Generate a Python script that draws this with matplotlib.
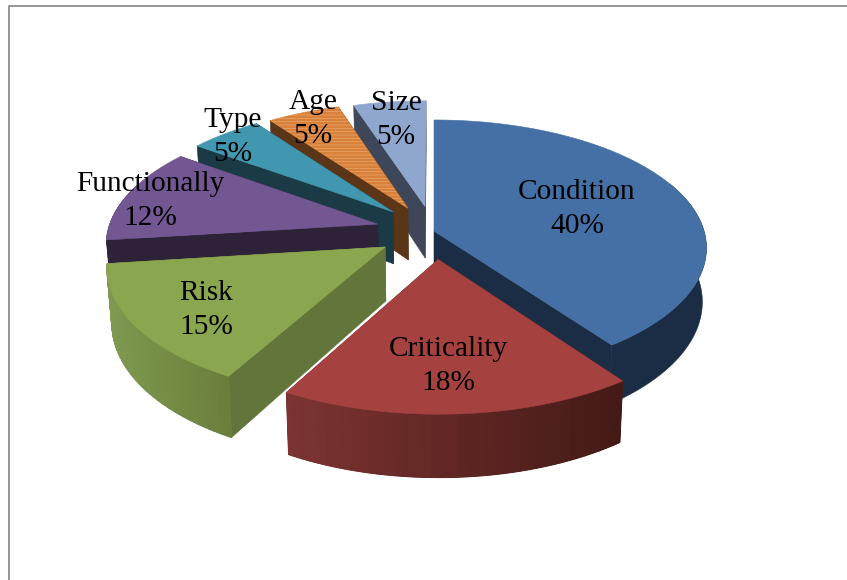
import numpy as np
import matplotlib.pyplot as plt
from matplotlib.colors import LinearSegmentedColormap
from matplotlib.patches import Polygon

# Values of the exploded 3D pie, clockwise from 12 o'clock
categories = ['Condition', 'Criticality', 'Risk', 'Functionally', 'Type', 'Age', 'Size']
values = [40, 18, 15, 12, 5, 5, 5]

top_colors = ['#4470A5', '#A5423F', '#8AA64E', '#725792', '#4097AF', '#D98139', '#8FA6CE']
side_colors = ['#1B2D45', '#62201D', '#62753A', '#2D2238', '#1A3A46', '#5A3518', '#3D4759']
arc_left_colors = ['#1B2D45', '#7D3431', '#7F9A50', '#2D2238', '#1A3A46', '#5A3518', '#3D4759']
arc_right_colors = ['#1B2D45', '#441A17', '#6A7F3C', '#2D2238', '#1A3A46', '#5A3518', '#3D4759']

# Slice offsets on the pie plane (fraction of the radius)
shift_u = [0.0, 0.015, -0.178, -0.21, -0.155, -0.099, -0.034]
shift_v = [0.0, 0.22, 0.125, -0.055, -0.155, -0.185, -0.20]

# Label centres in pixels
label_x = [577, 448, 206, 150, 233, 313, 396]
label_y = [209, 366, 310, 201, 137, 119, 120]

# Back to front
draw_order = [6, 5, 4, 3, 0, 2, 1]

# Camera settings
cx, cy = 434, 231
radius_x, radius_y = 270, 125.8
persp = 0.133
depth = 53
bottom_scale = 0.985


def project(u, v):
    s = 1 / (1 - persp * v)
    return cx + radius_x * u * s, cy + radius_y * v * s, s


def bottom(u, v):
    x, y, s = project(u, v)
    return cx + (x - cx) * bottom_scale, y + depth * s


def wall(ax, us, vs, color, lw=0.4):
    # side wall hanging below a run of points of the top face
    x1, y1, _ = project(np.asarray(us), np.asarray(vs))
    x2, y2 = bottom(np.asarray(us), np.asarray(vs))
    pts = np.r_[np.c_[x1, y1], np.c_[x2, y2][::-1]]
    ax.add_patch(Polygon(pts, closed=True, facecolor=color, edgecolor=color, lw=lw))


fig = plt.figure(figsize=(8.47, 5.8), dpi=100)
ax = fig.add_axes([0, 0, 1, 1])
ax.set_xlim(0, 847)
ax.set_ylim(580, 0)
ax.axis('off')

# Grey frame, only top and left are visible
ax.plot([847, 9, 9], [5.5, 5.5, 580], color='#8C8C8C', lw=1.3)

edges = np.cumsum([0] + values) / sum(values) * 2 * np.pi

for i in draw_order:
    a1, a2 = edges[i], edges[i + 1]
    theta = np.linspace(a1, a2, 160)
    u = shift_u[i] + np.sin(theta)
    v = shift_v[i] - np.cos(theta)

    # radial walls
    wall(ax, [shift_u[i], u[0]], [shift_v[i], v[0]], side_colors[i])
    wall(ax, [shift_u[i], u[-1]], [shift_v[i], v[-1]], side_colors[i])

    # outer wall: solid base, then shaded left to right where the colour changes
    front = v > -0.4
    if front.any():
        wall(ax, u[front], v[front], arc_right_colors[i])
        if arc_left_colors[i] != arc_right_colors[i]:
            cmap = LinearSegmentedColormap.from_list('wall', [arc_left_colors[i], arc_right_colors[i]])
            xs = project(u, v)[0]
            shade = (xs - xs.min()) / (xs.max() - xs.min())
            idx = np.where(front)[0]
            for j in idx[:-1][::4]:
                wall(ax, u[j:j + 5], v[j:j + 5], cmap(shade[j]), lw=0.9)

    # top face
    tx, ty, _ = project(np.r_[shift_u[i], u], np.r_[shift_v[i], v])
    ax.add_patch(Polygon(np.c_[tx, ty], closed=True, facecolor=top_colors[i],
                         edgecolor=top_colors[i], lw=0.4))
    if categories[i] == 'Age':
        # the orange slice has a streaky fill
        plt.rcParams['hatch.linewidth'] = 0.5
        ax.add_patch(Polygon(np.c_[tx, ty], closed=True, facecolor='none',
                             edgecolor='#E6A870', hatch='-----', lw=0))

for name, val, lx, ly in zip(categories, values, label_x, label_y):
    ax.text(lx, ly, f'{name}\n{val}%', ha='center', va='center', color='black',
            family='Liberation Serif', fontsize=21.2, linespacing=1.38)

fig.savefig('out.png', dpi=100)
